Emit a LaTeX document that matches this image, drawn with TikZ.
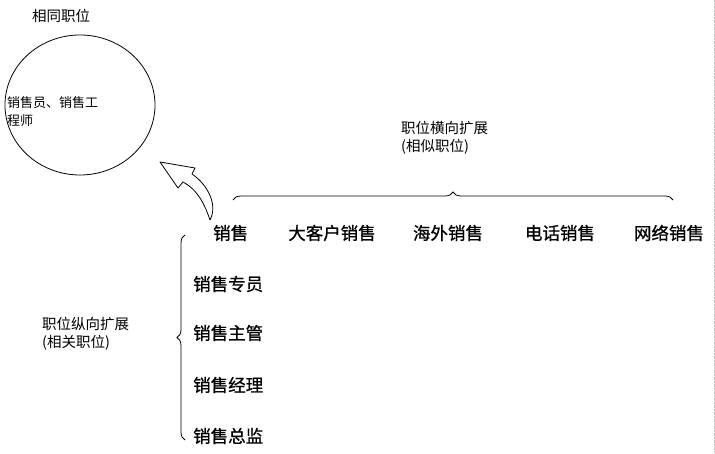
\documentclass[tikz,border=0pt]{standalone}
\usepackage{fontspec}
\setmainfont{Noto Sans CJK SC}
\newfontfamily\bigf[FakeBold=0.8]{Noto Sans CJK SC}
\usetikzlibrary{decorations.pathreplacing,shapes.geometric}
\begin{document}
\begin{tikzpicture}[x=1pt,y=-1pt,
  big/.style={font=\bigf\fontsize{17.5}{20}\selectfont,inner sep=0pt},
  small/.style={font=\fontsize{14.5}{18}\selectfont,inner sep=0pt,align=left},
  brace/.style={decorate,decoration={brace,amplitude=8pt},line width=0.8pt}]
\useasboundingbox (0,0) rectangle (715,454);
\draw[gray!50,densely dotted] (714,0) -- (714,454);
\node[small,anchor=west,font=\fontsize{14.5}{18}\selectfont] (same) at (32,16) {相同职位};
\node[draw,ellipse,minimum width=150pt,minimum height=140pt,line width=0.8pt] (circ) at (80,105) {};
\node[small,font=\fontsize{13}{18}\selectfont,align=left,anchor=west] (ct) at (7,112) {销售员、销售工\\程师};
% curved block arrow
\draw[line width=0.8pt,line join=round] (160,162) -- (195,168) -- (192,174)
  .. controls (208,185) and (218,205) .. (210,220)
  .. controls (205,205) and (198,190) .. (183,182)
  -- (178,188) -- cycle;
\node[big,anchor=west] (s0) at (213,233) {销售};
\node[big] (s1) at (332,233) {大客户销售};
\node[big] (s2) at (448,233) {海外销售};
\node[big] (s3) at (560,233) {电话销售};
\node[big] (s4) at (669,233) {网络销售};
\coordinate (hb1) at (233,200);
\coordinate (hb2) at (673,200);
\draw[brace] (hb1) -- (hb2);
\node[small,anchor=west] (hl) at (401,138) {职位横向扩展\\(相似职位)};
\node[big,anchor=west] (v1) at (193,284) {销售专员};
\node[big,anchor=west] (v2) at (193,333) {销售主管};
\node[big,anchor=west] (v3) at (193,385) {销售经理};
\node[big,anchor=west] (v4) at (193,436) {销售总监};
\coordinate (vb1) at (185,440);
\coordinate (vb2) at (185,235);
\draw[brace] (vb1) -- (vb2);
\node[small,anchor=west] (vl) at (42,334) {职位纵向扩展\\(相关职位)};
\end{tikzpicture}
\end{document}
